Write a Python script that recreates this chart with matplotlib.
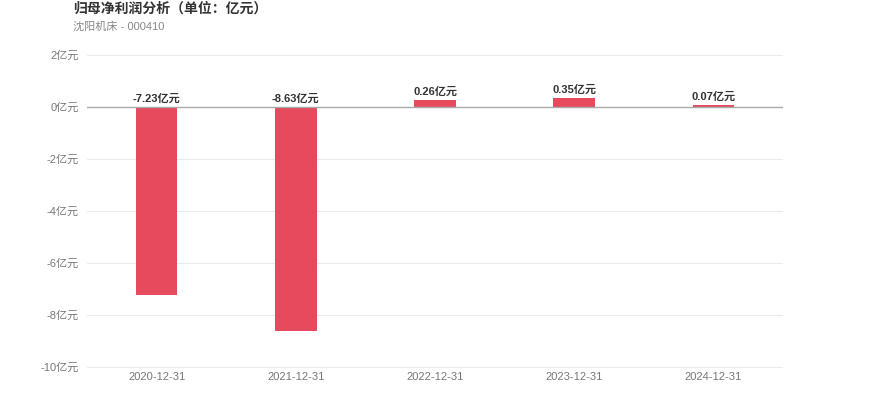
import matplotlib.pyplot as plt

plt.rcParams['font.family'] = ['Liberation Sans', 'Noto Sans CJK SC', 'DejaVu Sans']

dates = ['2020-12-31', '2021-12-31', '2022-12-31', '2023-12-31', '2024-12-31']
profit = [-7.23, -8.63, 0.26, 0.35, 0.07]
yticks = [2, 0, -2, -4, -6, -8, -10]

bar_color = '#E64B5D'

fig = plt.figure(figsize=(8.7, 4.17), dpi=100)
ax = fig.add_axes([0.1, 0.1175, 0.8, 0.7505])

x = list(range(len(dates)))
ax.bar(x, profit, width=0.3, color=bar_color, zorder=3)

for xi, v in zip(x, profit):
    base = max(v, 0)
    ax.annotate(f'{v:.2f}亿元', (xi, base), xytext=(0, 2.5), textcoords='offset points',
                ha='center', va='bottom', fontsize=8, fontweight='bold', color='#333333')

ax.set_xlim(-0.5, len(dates) - 0.5)
ax.set_ylim(-10.05, 2)
ax.set_yticks(yticks)
ax.set_yticklabels([f'{t}亿元' for t in yticks])
ax.set_xticks(x)
ax.set_xticklabels(dates)
ax.tick_params(axis='both', length=0, labelsize=8, labelcolor='#777777')
ax.tick_params(axis='y', pad=6)
ax.tick_params(axis='x', pad=3)

for t in yticks:
    if t != 0:
        ax.axhline(t, color='#EBEBEB', linewidth=0.8, zorder=1)
ax.axhline(0, color='#AAAAAA', linewidth=1.0, zorder=4)

for s in ax.spines.values():
    s.set_visible(False)

fig.text(73 / 870, 1 - 9 / 417, '归母净利润分析（单位：亿元）', fontsize=10, fontweight='bold',
         color='#333333', ha='left', va='center')
fig.text(73 / 870, 1 - 27 / 417, '沈阳机床 - 000410', fontsize=8, color='#888888',
         ha='left', va='center')

fig.savefig('out.png', dpi=100)
